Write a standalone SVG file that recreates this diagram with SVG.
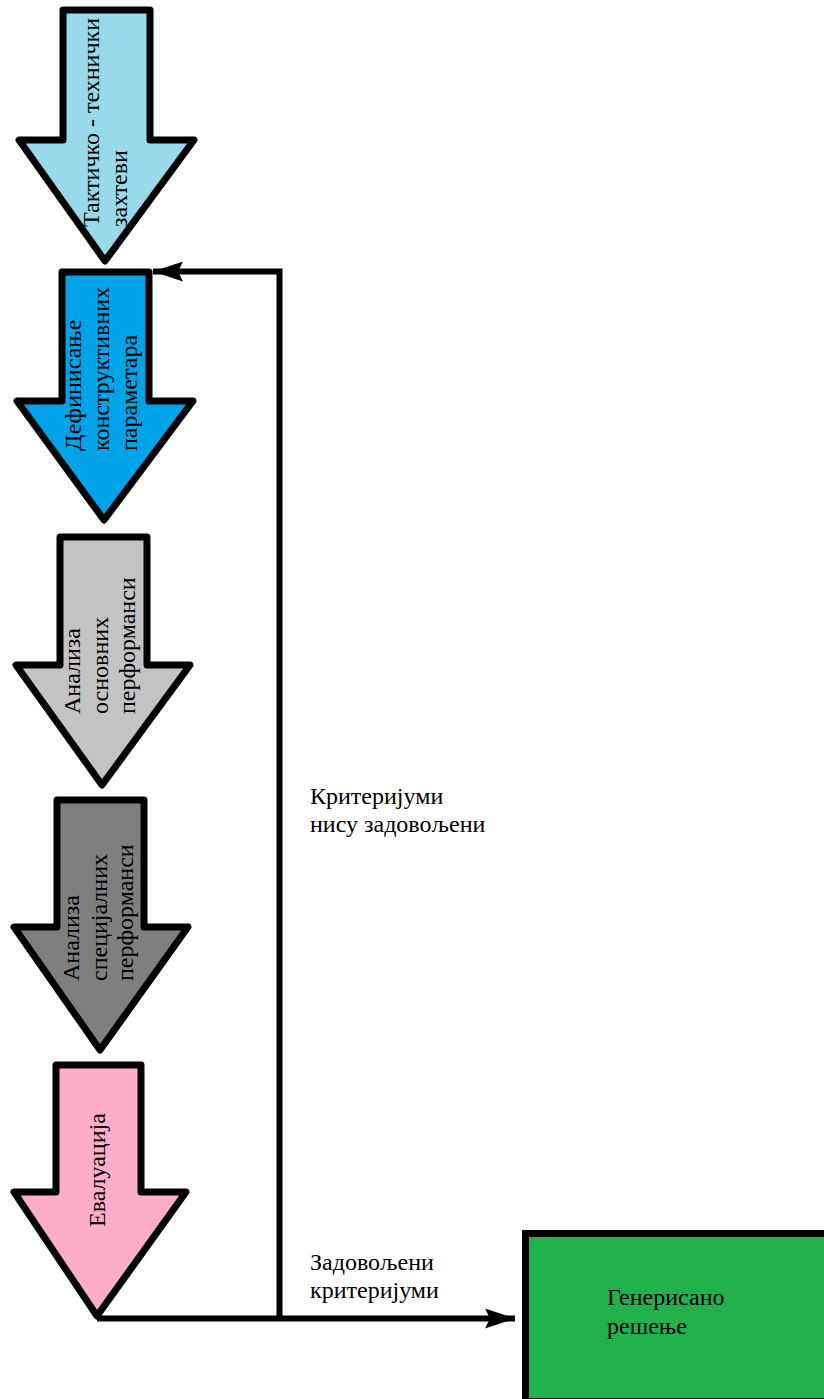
<svg xmlns="http://www.w3.org/2000/svg" width="824" height="1399" viewBox="0 0 824 1399">
<style>
.arr{stroke:#000;stroke-width:7;stroke-linejoin:round}
text{font-family:'Liberation Serif','Times New Roman','DejaVu Serif',serif;font-size:24px;fill:#000}
.ln{fill:none;stroke:#000;stroke-width:6}
</style>
<defs>
<marker id="ah" viewBox="0 0 30 20" refX="30" refY="10" markerWidth="30" markerHeight="20" markerUnits="userSpaceOnUse" orient="auto">
<path d="M0,0 L30,10 L0,20 L5,10 Z" fill="#000"/>
</marker>
</defs>
<rect width="824" height="1399" fill="#fff"/>
<g id="n1">
<path class="arr" fill="#99D9EA" d="M63,10 H150 V140 H194 L105,261 L19,140 H63 Z"/>
<text font-family="Liberation Serif, serif" transform="translate(99,227) rotate(-90)">Тактичко - технички</text>
<text font-family="Liberation Serif, serif" transform="translate(127,227) rotate(-90)">захтеви</text>
</g>
<g id="n2">
<path class="arr" fill="#00A2E8" d="M62,272 H149 V401 H193 L104,520 L17,401 H62 Z"/>
<text font-family="Liberation Serif, serif" transform="translate(81,451) rotate(-90)">Дефинисање</text>
<text font-family="Liberation Serif, serif" transform="translate(109,451) rotate(-90)">конструктивних</text>
<text font-family="Liberation Serif, serif" transform="translate(137,451) rotate(-90)">параметара</text>
</g>
<g id="n3">
<path class="arr" fill="#C3C3C3" d="M60,537 H147 V665 H190 L102,785 L16,665 H60 Z"/>
<text font-family="Liberation Serif, serif" transform="translate(80,714) rotate(-90)">Анализа</text>
<text font-family="Liberation Serif, serif" transform="translate(108,714) rotate(-90)">основних</text>
<text font-family="Liberation Serif, serif" transform="translate(135,714) rotate(-90)">перформанси</text>
</g>
<g id="n4">
<path class="arr" fill="#7F7F7F" d="M57,800 H144 V927 H188 L100,1050 L14,927 H57 Z"/>
<text font-family="Liberation Serif, serif" transform="translate(79,981) rotate(-90)">Анализа</text>
<text font-family="Liberation Serif, serif" transform="translate(107,981) rotate(-90)">специјалних</text>
<text font-family="Liberation Serif, serif" transform="translate(133,981) rotate(-90)">перформанси</text>
</g>
<g id="n5">
<path class="arr" fill="#FFAEC9" d="M56,1065 H141 V1192 H186 L97,1316 L14,1192 H56 Z"/>
<text font-family="Liberation Serif, serif" transform="translate(105,1227) rotate(-90)">Евалуација</text>
</g>
<g id="n6">
<rect x="525.5" y="1233.5" width="310" height="168" fill="#22B14C" stroke="#000" stroke-width="7"/>
<text font-family="Liberation Serif, serif" x="607" y="1305">Генерисано</text>
<text font-family="Liberation Serif, serif" x="607" y="1334">решење</text>
</g>
<g id="connectors">
<path class="ln" d="M97,1318.5 H515" marker-end="url(#ah)"/>
<path class="ln" d="M279.5,1318.5 V271.5 H153" marker-end="url(#ah)"/>
</g>
<g id="labels">
<text font-family="Liberation Serif, serif" x="310" y="804">Критеријуми</text>
<text font-family="Liberation Serif, serif" x="310" y="832">нису задовољени</text>
<text font-family="Liberation Serif, serif" x="310" y="1270">Задовољени</text>
<text font-family="Liberation Serif, serif" x="310" y="1298">критеријуми</text>
</g>
</svg>
